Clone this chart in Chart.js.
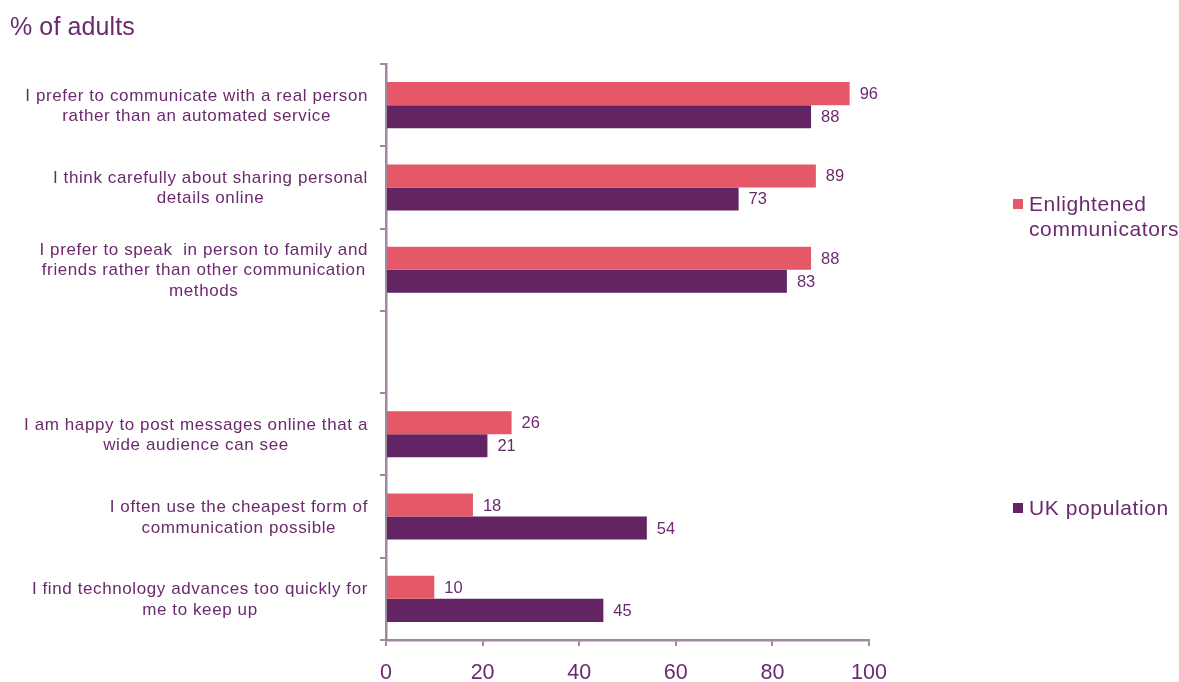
<!DOCTYPE html>
<html>
<head>
<meta charset="utf-8">
<script src="https://cdn.jsdelivr.net/npm/chart.js@4"></script>
<style>
    body { margin: 0; background: #fff; }
    #wrap { position: relative; width: 1179px; height: 682px; font-family: "Liberation Sans", Arial, sans-serif; color: #6a2a6d; }
    .title { position: absolute; left: 10px; top: 12px; font-size: 25px; letter-spacing: 0.1px; }
    .legend { position: absolute; left: 1013px; font-size: 21px; letter-spacing: 0.6px; line-height: 25px; }
    .legend i { position: absolute; left: 0; top: 8px; width: 10px; height: 10px; }
    .legend span { display: block; margin-left: 16px; }
    canvas { position: absolute; left: 0; top: 0; }
</style>
</head>
<body>
<div id="wrap">
    <canvas id="myChart" width="1179" height="682"></canvas>
    <div class="title">% of adults</div>
    <div class="legend" style="top:191px"><i style="background:#e45868"></i><span>Enlightened</span><span>communicators</span></div>
    <div class="legend" style="top:495px"><i style="background:#622463"></i><span>UK population</span></div>
</div>
<script>
// survey statements (empty row leaves a gap between the two groups)
const categories = [
    ["I prefer to communicate with a real person", "rather than an automated service"],
    ["I think carefully about sharing personal", "details online"],
    ["I prefer to speak  in person to family and", "friends rather than other communication", "methods"],
    [""],
    ["I am happy to post messages online that a", "wide audience can see"],
    ["I often use the cheapest form of", "communication possible"],
    ["I find technology advances too quickly for", "me to keep up"],
];
const enlightened = [96, 89, 88, null, 26, 18, 10];
const ukPopulation = [88, 73, 83, null, 21, 54, 45];
const xTicks = [0, 20, 40, 60, 80, 100];

const textColor = "#6a2a6d";
const axisColor = "#9e8a9f";
const fontFamily = '"Liberation Sans", Arial, sans-serif';

// multi-line statements, right-aligned block with centred lines
const categoryLabels = {
    id: "categoryLabels",
    afterDraw(chart) {
        const { ctx } = chart;
        const y = chart.scales.y;
        ctx.save();
        ctx.font = "17px " + fontFamily;
        ctx.letterSpacing = "0.6px";
        ctx.fillStyle = textColor;
        ctx.textAlign = "center";
        ctx.textBaseline = "middle";
        const lineH = 20.5;
        const right = y.right - 18;
        chart.data.labels.forEach((lines, i) => {
            const widest = Math.max(...lines.map((l) => ctx.measureText(l).width));
            const cx = right - widest / 2;
            const cy = y.getPixelForValue(i) + 1;
            lines.forEach((l, k) => {
                ctx.fillText(l, cx, cy + (k - (lines.length - 1) / 2) * lineH);
            });
        });
        ctx.restore();
    },
};

// value next to the end of each bar
const valueLabels = {
    id: "valueLabels",
    afterDatasetsDraw(chart) {
        const { ctx } = chart;
        ctx.save();
        ctx.font = "16.5px " + fontFamily;
        ctx.fillStyle = textColor;
        ctx.textAlign = "left";
        ctx.textBaseline = "middle";
        chart.data.datasets.forEach((ds, di) => {
            chart.getDatasetMeta(di).data.forEach((bar, i) => {
                const v = ds.data[i];
                if (v === null) return;
                ctx.fillText(v, bar.x + 10, bar.y + 1);
            });
        });
        ctx.restore();
    },
};

const ctx = document.getElementById("myChart").getContext("2d");

new Chart(ctx, {
    type: "bar",
    data: {
        labels: categories,
        datasets: [
            {
                label: "Enlightened communicators",
                data: enlightened,
                backgroundColor: "#e45868",
                categoryPercentage: 0.56,
                barPercentage: 1,
            },
            {
                label: "UK population",
                data: ukPopulation,
                backgroundColor: "#622463",
                categoryPercentage: 0.56,
                barPercentage: 1,
            },
        ],
    },
    options: {
        indexAxis: "y",
        responsive: false,
        animation: false,
        layout: { padding: { top: 64, right: 310, bottom: 0, left: 0 } },
        plugins: {
            legend: { display: false },
            tooltip: { enabled: false },
        },
        scales: {
            x: {
                min: 0,
                max: 100,
                afterBuildTicks: (scale) => {
                    scale.ticks = xTicks.map((v) => ({ value: v }));
                },
                grid: { drawOnChartArea: false, tickLength: 6, color: axisColor, lineWidth: 2 },
                border: { color: axisColor, width: 2.5 },
                ticks: {
                    color: textColor,
                    font: { size: 21.5, family: fontFamily },
                    padding: 14,
                    maxRotation: 0,
                },
                afterFit: (scale) => {
                    scale.height = 42;
                },
            },
            y: {
                grid: { offset: true, drawOnChartArea: false, tickLength: 6, color: axisColor, lineWidth: 2 },
                border: { color: axisColor, width: 2.5 },
                ticks: { display: false },
                afterFit: (scale) => {
                    scale.width = 386;
                },
            },
        },
    },
    plugins: [categoryLabels, valueLabels],
});
</script>
</body>
</html>
